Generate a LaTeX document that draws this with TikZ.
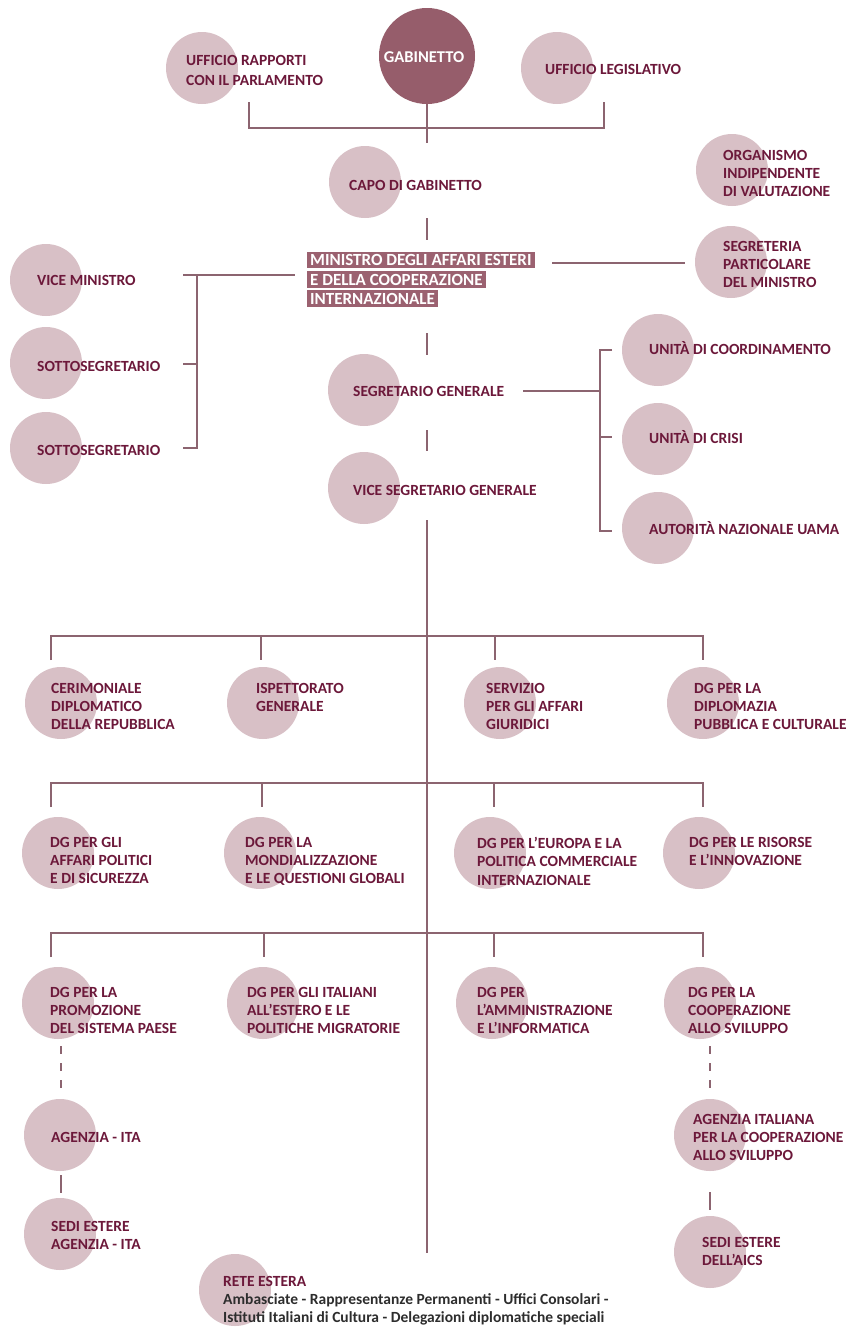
\documentclass[tikz,border=0pt]{standalone}
\usepackage{fontspec}
\setmainfont{Carlito}
\definecolor{bubble}{RGB}{216,192,198}
\definecolor{gabc}{RGB}{150,93,107}
\definecolor{minc}{RGB}{155,97,112}
\definecolor{txt}{RGB}{108,24,58}
\definecolor{linec}{RGB}{140,100,112}
\definecolor{darktxt}{RGB}{45,45,45}
\begin{document}
\begin{tikzpicture}[x=1pt,y=-1pt,
  bub/.style={circle,fill=bubble,minimum size=72pt,inner sep=0pt},
  lbl/.style={anchor=north west,align=left,inner sep=0pt,text=txt,
    font=\fontsize{15.5}{18.3}\selectfont\bfseries},
  one/.style={text height=10pt,text depth=0pt},
  conn/.style={draw=linec,line width=1.2pt},
  dconn/.style={conn,dash pattern=on 8pt off 9pt},
  mbox/.style={anchor=west,fill=minc,text=white,inner xsep=3pt,inner ysep=0pt,
    minimum height=16.5pt,font=\fontsize{17}{17}\selectfont\bfseries}]
\useasboundingbox[fill=white] (0,0) rectangle (850,1328);

% ---------- circles ----------
\node[bub,fill=gabc,minimum size=96pt] (gab) at (427,56) {};
\node[bub] (urp) at (202,68) {};
\node[bub] (ule) at (557,68) {};
\node[bub] (capo) at (365,182) {};
\node[bub] (oiv) at (732,170) {};
\node[bub] (spm) at (731,262) {};
\node[bub] (vm) at (46,280) {};
\node[bub] (ss1) at (46,363) {};
\node[bub] (ss2) at (46,448) {};
\node[bub] (sg) at (364,390) {};
\node[bub] (vsg) at (364,488) {};
\node[bub] (udc) at (658,350) {};
\node[bub] (ucr) at (658,439) {};
\node[bub] (uama) at (658,528) {};
\node[bub] (r1a) at (61,703) {};
\node[bub] (r1b) at (263,703) {};
\node[bub] (r1c) at (500,703) {};
\node[bub] (r1d) at (703,703) {};
\node[bub] (r2a) at (58,853) {};
\node[bub] (r2b) at (260,853) {};
\node[bub] (r2c) at (490,853) {};
\node[bub] (r2d) at (699,853) {};
\node[bub] (r3a) at (58,1003) {};
\node[bub] (r3b) at (263,1003) {};
\node[bub] (r3c) at (492,1003) {};
\node[bub] (r3d) at (700,1003) {};
\node[bub] (ita) at (60,1135) {};
\node[bub] (sita) at (60,1234) {};
\node[bub] (aics) at (710,1135) {};
\node[bub] (saics) at (710,1252) {};
\node[bub] (rete) at (235,1290) {};

% ---------- labels ----------
\node[font=\fontsize{16.5}{18}\selectfont\bfseries,text=white,inner sep=0pt] (tgab) at (424,57) {GABINETTO};
\node[lbl] (turp) at (186,55) {UFFICIO RAPPORTI\\[2pt]CON IL PARLAMENTO};
\node[lbl,one] (tule) at (545,64) {UFFICIO LEGISLATIVO};
\node[lbl,one] (tcapo) at (349,180) {CAPO DI GABINETTO};
\node[lbl] (toiv) at (723,150) {ORGANISMO\\INDIPENDENTE\\DI VALUTAZIONE};
\node[lbl] (tspm) at (723,241) {SEGRETERIA\\PARTICOLARE\\DEL MINISTRO};
\node[lbl,one] (tvm) at (37,275) {VICE MINISTRO};
\node[lbl,one] (tss1) at (37,361) {SOTTOSEGRETARIO};
\node[lbl,one] (tss2) at (37,445) {SOTTOSEGRETARIO};
\node[lbl,one] (tsg) at (353,386) {SEGRETARIO GENERALE};
\node[lbl,one] (tvsg) at (353,485) {VICE SEGRETARIO GENERALE};
\node[lbl,one] (tudc) at (649,344) {UNITÀ DI COORDINAMENTO};
\node[lbl,one] (tucr) at (649,433) {UNITÀ DI CRISI};
\node[lbl,one] (tuama) at (649,524) {AUTORITÀ NAZIONALE UAMA};

\node[mbox] (min1) at (307,260) {MINISTRO DEGLI AFFARI ESTERI};
\node[mbox] (min2) at (307,279.5) {E DELLA COOPERAZIONE};
\node[mbox] (min3) at (307,298.5) {INTERNAZIONALE};

\node[lbl] (t1a) at (51,683) {CERIMONIALE\\DIPLOMATICO\\DELLA REPUBBLICA};
\node[lbl] (t1b) at (256,683) {ISPETTORATO\\GENERALE};
\node[lbl] (t1c) at (486,683) {SERVIZIO\\PER GLI AFFARI\\GIURIDICI};
\node[lbl] (t1d) at (694,683) {DG PER LA\\DIPLOMAZIA\\PUBBLICA E CULTURALE};

\node[lbl] (t2a) at (50,837) {DG PER GLI\\AFFARI POLITICI\\E DI SICUREZZA};
\node[lbl] (t2b) at (245,837) {DG PER LA\\MONDIALIZZAZIONE\\E LE QUESTIONI GLOBALI};
\node[lbl] (t2c) at (477,837) {DG PER L’EUROPA E LA\\POLITICA COMMERCIALE\\INTERNAZIONALE};
\node[lbl] (t2d) at (689,837) {DG PER LE RISORSE\\E L’INNOVAZIONE};

\node[lbl] (t3a) at (50,987) {DG PER LA\\PROMOZIONE\\DEL SISTEMA PAESE};
\node[lbl] (t3b) at (247,987) {DG PER GLI ITALIANI\\ALL’ESTERO E LE\\POLITICHE MIGRATORIE};
\node[lbl] (t3c) at (477,987) {DG PER\\L’AMMINISTRAZIONE\\E L’INFORMATICA};
\node[lbl] (t3d) at (688,987) {DG PER LA\\COOPERAZIONE\\ALLO SVILUPPO};

\node[lbl,one] (tita) at (51,1132) {AGENZIA - ITA};
\node[lbl] (tsita) at (51,1221) {SEDI ESTERE\\AGENZIA - ITA};
\node[lbl] (taics) at (693,1114) {AGENZIA ITALIANA\\PER LA COOPERAZIONE\\ALLO SVILUPPO};
\node[lbl] (tsaics) at (702,1237) {SEDI ESTERE\\DELL’AICS};
\node[lbl,font=\fontsize{15.5}{18}\selectfont\bfseries] (trete) at (223,1276)
  {RETE ESTERA\\\textcolor{darktxt}{Ambasciate - Rappresentanze Permanenti - Uffici Consolari -}\\
   \textcolor{darktxt}{Istituti Italiani di Cultura - Delegazioni diplomatiche speciali}};

% ---------- connector points ----------
\coordinate (g1) at (427,104);   \coordinate (g2) at (427,143);
\coordinate (bl) at (249,102);   \coordinate (blc) at (249,128);
\coordinate (brc) at (604,128);  \coordinate (br) at (604,102);
\coordinate (c1) at (427,218);   \coordinate (c2) at (427,240);
\coordinate (m1) at (552,263);   \coordinate (m2) at (685,263);
\coordinate (l0) at (295,275);   \coordinate (l1) at (183,275);
\coordinate (lv1) at (197,275);  \coordinate (lv3) at (197,448);
\coordinate (l2a) at (183,364);  \coordinate (l2b) at (197,364);
\coordinate (l3a) at (183,448);
\coordinate (s1) at (427,333);   \coordinate (s2) at (427,355);
\coordinate (sg1) at (523,391);  \coordinate (sg2) at (600,391);
\coordinate (u1a) at (612,350);  \coordinate (u1b) at (600,350);
\coordinate (u3b) at (600,531);  \coordinate (u3a) at (612,531);
\coordinate (u2a) at (600,437);  \coordinate (u2b) at (612,437);
\coordinate (v1) at (427,430);   \coordinate (v2) at (427,451);
\coordinate (mn1) at (427,520);  \coordinate (mn2) at (427,1253);

\coordinate (h1l) at (51,636);  \coordinate (h1r) at (703,636);
\coordinate (k1a) at (51,660);  \coordinate (k1b0) at (261,636); \coordinate (k1b) at (261,660);
\coordinate (k1c0) at (495,636); \coordinate (k1c) at (495,660); \coordinate (k1d) at (703,660);
\coordinate (h2l) at (51,783);  \coordinate (h2r) at (703,783);
\coordinate (k2a) at (51,807);  \coordinate (k2b0) at (262,783); \coordinate (k2b) at (262,807);
\coordinate (k2c0) at (494,783); \coordinate (k2c) at (494,807); \coordinate (k2d) at (703,807);
\coordinate (h3l) at (51,933);  \coordinate (h3r) at (703,933);
\coordinate (k3a) at (51,957);  \coordinate (k3b0) at (264,933); \coordinate (k3b) at (264,957);
\coordinate (k3c0) at (494,933); \coordinate (k3c) at (494,957); \coordinate (k3d) at (703,957);

\coordinate (da1) at (61,1046);  \coordinate (da2) at (61,1088);
\coordinate (db1) at (710,1046); \coordinate (db2) at (710,1088);
\coordinate (ea1) at (61,1175);  \coordinate (ea2) at (61,1193);
\coordinate (eb1) at (710,1192); \coordinate (eb2) at (710,1210);

% ---------- connectors ----------
\draw[conn] (g1) -- (g2);
\draw[conn] (bl) -- (blc) -- (brc) -- (br);
\draw[conn] (c1) -- (c2);
\draw[conn] (m1) -- (m2);
\draw[conn] (l1) -- (l0);
\draw[conn] (lv1) -- (lv3) -- (l3a);
\draw[conn] (l2a) -- (l2b);
\draw[conn] (s1) -- (s2);
\draw[conn] (sg1) -- (sg2);
\draw[conn] (u1a) -- (u1b) -- (u3b) -- (u3a);
\draw[conn] (u2a) -- (u2b);
\draw[conn] (v1) -- (v2);
\draw[conn] (mn1) -- (mn2);

\draw[conn] (k1a) -- (h1l) -- (h1r) -- (k1d);
\draw[conn] (k1b0) -- (k1b);
\draw[conn] (k1c0) -- (k1c);
\draw[conn] (k2a) -- (h2l) -- (h2r) -- (k2d);
\draw[conn] (k2b0) -- (k2b);
\draw[conn] (k2c0) -- (k2c);
\draw[conn] (k3a) -- (h3l) -- (h3r) -- (k3d);
\draw[conn] (k3b0) -- (k3b);
\draw[conn] (k3c0) -- (k3c);

\draw[dconn] (da1) -- (da2);
\draw[dconn] (db1) -- (db2);
\draw[conn] (ea1) -- (ea2);
\draw[conn] (eb1) -- (eb2);
\end{tikzpicture}
\end{document}
